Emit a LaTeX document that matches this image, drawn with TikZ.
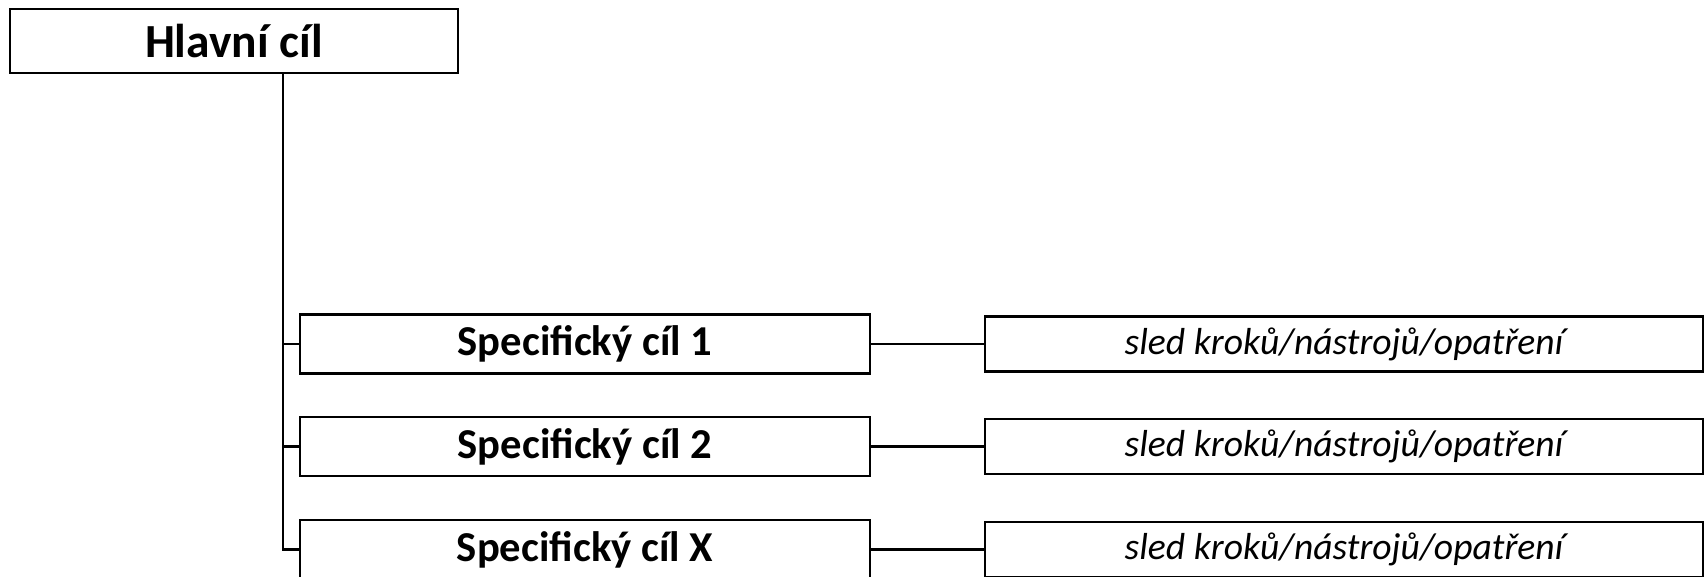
\documentclass[tikz,border=0pt]{standalone}
\usepackage{fontspec}
\setmainfont{Carlito}
\begin{document}
\begin{tikzpicture}[x=1pt,y=-1pt,
  box/.style={draw=black, line width=2.5pt, inner sep=0pt, outer sep=0pt, fill=white},
  mainbox/.style={box, minimum width=448pt, minimum height=64pt, font=\fontsize{47.5}{52}\selectfont\bfseries},
  specbox/.style={box, minimum width=570pt, minimum height=59pt, font=\fontsize{42.6}{46}\selectfont\bfseries},
  actbox/.style={box, minimum width=718pt, minimum height=55pt, font=\fontsize{37.6}{41}\selectfont\itshape},
  conn/.style={line width=2.3pt, draw=black}]
\clip (0,0) rectangle (1705,576);
\fill[white] (0,0) rectangle (1705,576);
\coordinate (trunk) at (283,0);
\node[mainbox] (main) at (234,41) {Hlavní cíl};
\node[specbox] (s1) at (585,344) {Specifický cíl 1};
\node[specbox] (s2) at (585,446.5) {Specifický cíl 2};
\node[specbox] (sX) at (585,549.5) {Specifický cíl X};
\node[actbox] (a1) at (1344,344) {sled kroků/nástrojů/opatření};
\node[actbox] (a2) at (1344,446.5) {sled kroků/nástrojů/opatření};
\node[actbox] (a3) at (1344,549.5) {sled kroků/nástrojů/opatření};
\draw[conn] (main.south -| trunk) |- (sX.west);
\draw[conn] (s1.west) -- (s1.west -| trunk);
\draw[conn] (s2.west) -- (s2.west -| trunk);
\draw[conn] (s1.east) -- (a1.west);
\draw[conn] (s2.east) -- (a2.west);
\draw[conn] (sX.east) -- (a3.west);
\end{tikzpicture}
\end{document}
